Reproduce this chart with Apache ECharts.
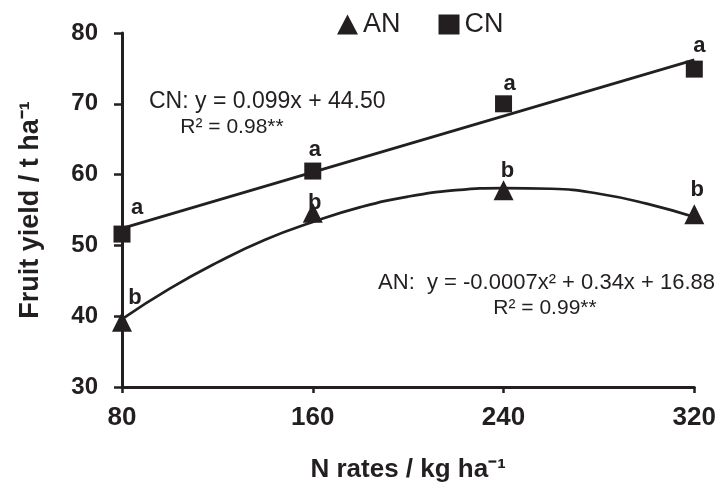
<!DOCTYPE html>
<html>
<head>
<meta charset="utf-8">
<script src="https://cdn.jsdelivr.net/npm/echarts@6/dist/echarts.min.js"></script>
<style>
html,body{margin:0;padding:0;background:#fff;}
#chart{width:719px;height:493px;}
</style>
</head>
<body>
<div id="chart"></div>
<script>
// ---- data ----
const nRates = [80, 160, 240, 320];
const anYield = [39.2, 54.6, 57.8, 54.4];
const cnYield = [51.6, 60.5, 70.0, 74.9];
const anLetters = ['b', 'b', 'b', 'b'];
const cnLetters = ['a', 'a', 'a', 'a'];
// fitted curves
const anFitX = [80, 100, 120, 140, 160, 180, 200, 220, 240, 260, 280, 300, 320];
const anFitY = [39.6, 43.9, 47.6, 50.8, 53.3, 55.4, 56.9, 57.8, 58.1, 58.0, 57.3, 55.9, 54.0];
const cnFitX = [80, 320];
const cnFitY = [52.4, 76.2];
const xTicks = [80, 160, 240, 320];
const yTicks = [30, 40, 50, 60, 70, 80];

// ---- styling ----
const INK = '#231f20';
const FONT = "'Liberation Sans', Arial, Helvetica, sans-serif";
const anLabelOffsets = [[13, -24], [2, -10], [4, -19], [3, -24]];
const cnLabelOffsets = [[15, -26], [2, -21], [6, -20], [5, -23]];

function pts(xs, ys) { return xs.map((x, i) => [x, ys[i]]); }
function markData(xs, ys, letters, offs) {
  return xs.map((x, i) => ({
    value: [x, ys[i]],
    label: { formatter: letters[i], offset: offs[i] }
  }));
}
const letterLabel = {
  show: true, position: 'inside', color: INK,
  fontFamily: FONT, fontWeight: 'bold', fontSize: 22
};

const chart = echarts.init(document.getElementById('chart'), null, { renderer: 'canvas' });
chart.setOption({
  animation: false,
  backgroundColor: '#fff',
  grid: { left: 122, right: 22, top: 33, bottom: 106, containLabel: false },
  legend: {
    top: 6, left: 332,
    itemWidth: 21, itemHeight: 20, itemGap: 38,
    textStyle: { color: INK, fontFamily: FONT, fontSize: 27 },
    data: [
      { name: 'AN', icon: 'triangle' },
      { name: 'CN', icon: 'rect' }
    ]
  },
  xAxis: {
    type: 'value', min: xTicks[0], max: xTicks[xTicks.length - 1], interval: 80,
    name: 'N rates / kg ha⁻¹', nameLocation: 'middle', nameGap: 70,
    nameTextStyle: { color: INK, fontFamily: FONT, fontWeight: 'bold', fontSize: 26 },
    axisLine: { lineStyle: { color: INK, width: 3 } },
    axisTick: { show: true, length: 6, lineStyle: { color: INK, width: 2.5 } },
    axisLabel: { color: INK, fontFamily: FONT, fontWeight: 'bold', fontSize: 26, margin: 18 },
    splitLine: { show: false }
  },
  yAxis: {
    type: 'value', min: yTicks[0], max: yTicks[yTicks.length - 1], interval: 10,
    name: 'Fruit yield / t ha⁻¹', nameLocation: 'middle', nameGap: 78,
    nameTextStyle: { color: INK, fontFamily: FONT, fontWeight: 'bold', fontSize: 27 },
    axisLine: { show: true, lineStyle: { color: INK, width: 3 } },
    axisTick: { show: true, length: 8, lineStyle: { color: INK, width: 2.5 } },
    axisLabel: { color: INK, fontFamily: FONT, fontWeight: 'bold', fontSize: 24, margin: 24 },
    splitLine: { show: false }
  },
  series: [
    {
      name: 'AN fit', type: 'line', smooth: true, showSymbol: false, symbol: 'none',
      data: pts(anFitX, anFitY), lineStyle: { color: INK, width: 2.7 }, z: 2, silent: true
    },
    {
      name: 'CN fit', type: 'line', showSymbol: false, symbol: 'none',
      data: pts(cnFitX, cnFitY), lineStyle: { color: INK, width: 2.7 }, z: 2, silent: true
    },
    {
      name: 'AN', type: 'scatter', symbol: 'triangle', symbolSize: [20, 20],
      itemStyle: { color: INK, opacity: 1 }, z: 3,
      label: letterLabel,
      data: markData(nRates, anYield, anLetters, anLabelOffsets)
    },
    {
      name: 'CN', type: 'scatter', symbol: 'rect', symbolSize: 17,
      itemStyle: { color: INK, opacity: 1 }, z: 3,
      label: letterLabel,
      data: markData(nRates, cnYield, cnLetters, cnLabelOffsets)
    }
  ],
  graphic: [
    { type: 'text', x: 149, y: 102,
      style: { text: 'CN: y = 0.099x + 44.50', fill: INK, font: '23px ' + FONT, align: 'left', verticalAlign: 'middle' } },
    { type: 'text', x: 232, y: 127,
      style: { text: 'R² = 0.98**', fill: INK, font: '21px ' + FONT, align: 'center', verticalAlign: 'middle' } },
    { type: 'text', x: 715, y: 283,
      style: { text: 'AN:  y = -0.0007x² + 0.34x + 16.88', fill: INK, font: '22px ' + FONT, align: 'right', verticalAlign: 'middle' } },
    { type: 'text', x: 545, y: 308,
      style: { text: 'R² = 0.99**', fill: INK, font: '21px ' + FONT, align: 'center', verticalAlign: 'middle' } }
  ]
});
</script>
</body>
</html>
